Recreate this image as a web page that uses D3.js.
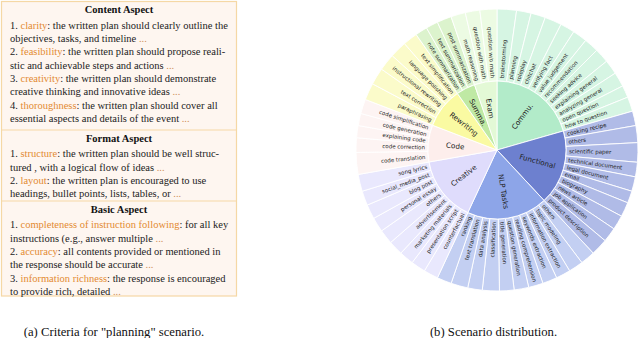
<!DOCTYPE html>
<html>
<head>
<meta charset="utf-8">
<script src="https://cdn.jsdelivr.net/npm/d3@7"></script>
<style>
  body { margin: 0; background: #fff; }
  svg { display: block; }
</style>
</head>
<body>
<svg id="fig" width="640" height="338"></svg>
<script>
// categories of the sunburst, clockwise from 12 o'clock
const categories = ["Commu.", "Functional", "NLP Tasks", "Creative", "Code", "Rewriting", "Summa.", "Exam"];
const innerColors = ["#b2ebc9", "#6d80cf", "#8da5e8", "#dfdcfc", "#fdeeec", "#fafaa2", "#bfe9a4", "#e3f9d6"];
const outerColors = ["#d6f5e3", "#b0bbe7", "#c3cff2", "#e9e8fd", "#fdf4f3", "#fbfbca", "#dcf3cd", "#ecfbe3"];

const commuNames = ["brainstorming", "planning", "roleplay", "chitchat", "verifying fact", "value judgement", "recommendation", "seeking advice", "explaining general", "analyzing general", "open question", "how to question"];
const commuValues = [8, 6, 6, 7, 6, 6, 6, 6, 6, 6, 5, 6];
const functionalNames = ["cooking recipe", "others", "scientific paper", "technical document", "legal document", "email", "biography", "news article", "job application", "product description"];
const functionalValues = [6, 7, 8, 6, 6, 5, 6, 6, 6, 7];
const nlpNames = ["others", "topic modeling", "information extraction", "keywords extraction", "reading comprehension", "question generation", "title generation", "classification", "data analysis", "text translation", "ranking"];
const nlpValues = [6, 6, 6, 6, 6, 6, 6, 7, 6, 7, 6];
const creativeNames = ["counterfactual", "presentation script", "marketing materials", "advertisement", "others", "personal essay", "blog post", "social_media_post", "song lyrics"];
const creativeValues = [6, 6, 6, 6, 6, 6, 6, 6, 7];
const codeNames = ["code translation", "code correction", "explaining code", "code generation", "code simplification"];
const codeValues = [9, 6, 5, 5, 6];
const rewritingNames = ["paraphrasing", "text correction", "instructional rewriting", "language polishing", "text simplification"];
const rewritingValues = [7, 7, 7, 7, 6];
const summaNames = ["note summarization", "text summarization", "post summarization"];
const summaValues = [5, 5, 6];
const examNames = ["math reasoning", "question with math", "question w/o math"];
const examValues = [6, 6, 7];

const scenarioNames = [commuNames, functionalNames, nlpNames, creativeNames, codeNames, rewritingNames, summaNames, examNames];
const scenarioValues = [commuValues, functionalValues, nlpValues, creativeValues, codeValues, rewritingValues, summaValues, examValues];

// left panel text: [prefix, keyword, rest] per line
const sections = [
  { title: "Content Aspect", lines: [
    ["1. ", "clarity", ": the written plan should clearly outline the"],
    ["", "", "objectives, tasks, and timeline ..."],
    ["2. ", "feasibility", ": the written plan should propose reali-"],
    ["", "", "stic and achievable steps and actions ..."],
    ["3. ", "creativity", ": the written plan should demonstrate"],
    ["", "", "creative thinking and innovative ideas ..."],
    ["4. ", "thoroughness", ": the written plan should cover all"],
    ["", "", "essential aspects and details of the event ..."]
  ]},
  { title: "Format Aspect", lines: [
    ["1. ", "structure", ": the written plan should be well struc-"],
    ["", "", "tured , with a logical flow of ideas ..."],
    ["2. ", "layout", ": the written plan is encouraged to use"],
    ["", "", "headings, bullet points, lists, tables, or ..."]
  ]},
  { title: "Basic Aspect", lines: [
    ["1. ", "completeness of instruction following", ": for all key"],
    ["", "", "instructions (e.g., answer multiple ..."],
    ["2. ", "accuracy", ": all contents provided or mentioned in"],
    ["", "", "the response should be accurate ..."],
    ["3. ", "information richness", ": the response is encouraged"],
    ["", "", "to provide rich, detailed ..."]
  ]}
];

const svg = d3.select("#fig");
const serif = "'Liberation Serif', 'Times New Roman', serif";

// ---------- left panel ----------
const box = svg.append("g");
const lineH = 13.35;
const sectionTops = [1.5, 130, 201];
const boxBottom = 296;
box.append("rect")
  .attr("x", 1.5).attr("y", 1.5).attr("width", 235).attr("height", boxBottom - 1.5)
  .attr("fill", "#fef6f0").attr("stroke", "#f5d8a5").attr("stroke-width", 1.2);
sectionTops.slice(1).forEach(y => {
  box.append("line").attr("x1", 1.5).attr("x2", 236.5).attr("y1", y).attr("y2", y)
    .attr("stroke", "#f5d8a5").attr("stroke-width", 1.2);
});

sections.forEach((sec, si) => {
  const top = sectionTops[si];
  box.append("text")
    .attr("x", 119).attr("y", top + 8).attr("dy", "0.35em")
    .attr("text-anchor", "middle")
    .attr("font-family", serif).attr("font-weight", "bold").attr("font-size", 10.5)
    .attr("fill", "#111")
    .text(sec.title);
  sec.lines.forEach((ln, li) => {
    const t = box.append("text")
      .attr("x", 10).attr("y", top + 23.5 + li * lineH).attr("dy", "0.35em")
      .attr("font-family", serif).attr("font-size", 10.5).attr("fill", "#222");
    if (ln[0]) t.append("tspan").text(ln[0]);
    if (ln[1]) t.append("tspan").attr("fill", "#e38a30").text(ln[1]);
    const rest = ln[2];
    if (rest.endsWith("...")) {
      t.append("tspan").text(rest.slice(0, -3));
      t.append("tspan").attr("fill", "#d0915a").text("...");
    } else {
      t.append("tspan").text(rest);
    }
  });
});

svg.append("text")
  .attr("x", 114).attr("y", 335.5)
  .attr("text-anchor", "middle")
  .attr("font-family", serif).attr("font-size", 12.7).attr("fill", "#111")
  .text("(a) Criteria for \"planning\" scenario.");

svg.append("text")
  .attr("x", 493.5).attr("y", 335.5)
  .attr("text-anchor", "middle")
  .attr("font-family", serif).attr("font-size", 12.7).attr("fill", "#111")
  .text("(b) Scenario distribution.");

// ---------- sunburst ----------
const rInner = 69, rOuter = 141;
const treeData = {
  name: "root",
  children: categories.map((c, i) => ({
    name: c, idx: i,
    children: scenarioNames[i].map((n, j) => ({ name: n, idx: i, value: scenarioValues[i][j] }))
  }))
};

const root = d3.hierarchy(treeData).sum(d => d.value || 0);
d3.partition().size([2 * Math.PI, 2])(root);

const radius = d3.scaleLinear().domain([0, 1, 2]).range([0, 0, rInner]);
const arc = d3.arc()
  .startAngle(d => d.x0).endAngle(d => d.x1)
  .innerRadius(d => d.depth === 1 ? 0 : rInner)
  .outerRadius(d => d.depth === 1 ? rInner : rOuter);

const sun = svg.append("g").attr("transform", "translate(497,150)");
const nodes = root.descendants().filter(d => d.depth > 0);

sun.append("g").selectAll("path")
  .data(nodes.filter(d => d.depth === 2))
  .join("path")
  .attr("d", arc)
  .attr("fill", d => outerColors[d.data.idx])
  .attr("stroke", "#fff").attr("stroke-width", 0.9);

sun.append("g").selectAll("path")
  .data(nodes.filter(d => d.depth === 1))
  .join("path")
  .attr("d", arc)
  .attr("fill", d => innerColors[d.data.idx])
  .attr("stroke", "#fff").attr("stroke-width", 0.9);

const sans = "'DejaVu Sans', sans-serif";
const deg = d => (d.x0 + d.x1) / 2 * 180 / Math.PI;

sun.append("g").selectAll("text")
  .data(nodes.filter(d => d.depth === 2))
  .join("text")
  .attr("transform", d => {
    const a = deg(d);
    return `rotate(${a - 90}) translate(${rInner + 3},0)` + (a >= 180 ? " rotate(180)" : "");
  })
  .attr("text-anchor", d => deg(d) >= 180 ? "end" : "start")
  .attr("dy", "0.35em")
  .attr("font-family", sans).attr("font-size", 5.5).attr("fill", "#222")
  .text(d => d.data.name);

sun.append("g").selectAll("text")
  .data(nodes.filter(d => d.depth === 1))
  .join("text")
  .attr("transform", d => {
    const a = deg(d);
    return `rotate(${a - 90}) translate(42,0)` + (a >= 180 ? " rotate(180)" : "");
  })
  .attr("text-anchor", "middle")
  .attr("dy", "0.35em")
  .attr("font-family", sans).attr("font-size", 7.2).attr("fill", "#222")
  .text(d => d.data.name);
</script>
</body>
</html>
